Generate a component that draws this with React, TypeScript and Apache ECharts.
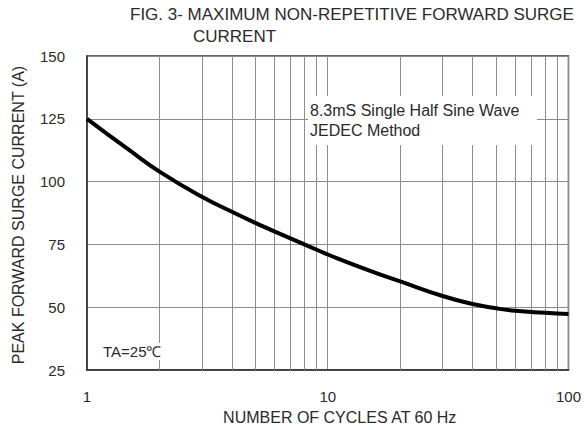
import React, { useEffect, useRef } from "react";
import * as echarts from "echarts";

const cycles = [1, 1.5, 2, 3, 4, 5, 6, 7, 8, 9, 10, 15, 20, 30, 40, 50, 60, 80, 100];
const surgeCurrent = [125, 112.5, 104, 94, 88, 83.6, 80.2, 77.4, 75, 72.9, 71, 64.5, 60.3, 54.5, 51.3, 49.6, 48.6, 47.8, 47.3];
const minorGridX = [2, 3, 4, 5, 6, 7, 8, 9, 20, 30, 40, 50, 60, 70, 80, 90];
const yMin = 25;
const yMax = 150;
const yStep = 25;

const FONT = "'Liberation Sans', Arial, sans-serif";
const TXT = "#2a2a2a";

export default function App() {
  const ref = useRef<HTMLDivElement>(null);
  useEffect(() => {
    if (!ref.current) return;
    const chart = echarts.init(ref.current, undefined, { renderer: "svg" });
    chart.setOption({
      animation: false,
      backgroundColor: "#fff",
      grid: {
        left: 87,
        right: 15,
        top: 56,
        bottom: 58,
        show: true,
        borderColor: "#333",
        borderWidth: 1.5,
      },
      xAxis: {
        type: "log",
        logBase: 10,
        min: 1,
        max: 100,
        name: "NUMBER OF CYCLES AT 60 Hz",
        nameLocation: "middle",
        nameGap: 38,
        nameTextStyle: { fontFamily: FONT, fontSize: 16, color: TXT, padding: [0, 0, 0, 24] },
        axisLine: { show: true, lineStyle: { color: "#333", width: 1.5 } },
        axisTick: { show: false },
        axisLabel: { fontFamily: FONT, fontSize: 15, color: TXT, margin: 19 },
        splitLine: { show: true, lineStyle: { color: "#8c8c8c", width: 1 } },
      },
      yAxis: {
        type: "value",
        min: yMin,
        max: yMax,
        interval: yStep,
        name: "PEAK FORWARD SURGE CURRENT (A)",
        nameLocation: "middle",
        nameGap: 61,
        nameTextStyle: { fontFamily: FONT, fontSize: 16, color: TXT, padding: [0, 4, 0, 0] },
        axisLine: { show: true, lineStyle: { color: "#333", width: 1.5 } },
        axisTick: { show: false },
        axisLabel: { fontFamily: FONT, fontSize: 15, color: TXT, margin: 22 },
        splitLine: { show: true, lineStyle: { color: "#8c8c8c", width: 1 } },
      },
      graphic: [
        {
          type: "text",
          left: 130,
          top: 6,
          style: { text: "FIG. 3- MAXIMUM NON-REPETITIVE FORWARD SURGE", font: `17px ${FONT}`, fill: TXT },
        },
        {
          type: "text",
          left: 193,
          top: 28,
          style: { text: "CURRENT", font: `17px ${FONT}`, fill: TXT },
        },
        {
          type: "rect",
          shape: { x: 308, y: 96, width: 229, height: 49 },
          style: { fill: "#fff" },
          z: 50,
        },
        {
          type: "text",
          x: 310,
          y: 100,
          z: 51,
          style: {
            text: "8.3mS Single Half Sine Wave\nJEDEC Method",
            font: `16px ${FONT}`,
            lineHeight: 20,
            fill: TXT,
          },
        },
        {
          type: "text",
          x: 101,
          y: 343,
          z: 51,
          style: {
            text: "TA=25\u2103",
            font: `15px ${FONT}`,
            fill: TXT,
            backgroundColor: "#fff",
            padding: [1, 2],
          },
        },
      ],
      series: [
        {
          type: "line",
          data: [],
          z: 1,
          silent: true,
          markLine: {
            silent: true,
            symbol: ["none", "none"],
            label: { show: false },
            lineStyle: { color: "#8c8c8c", width: 1, type: "solid" },
            data: minorGridX.map((v) => ({ xAxis: v })),
          },
        },
        {
          type: "line",
          z: 5,
          smooth: 0.5,
          showSymbol: false,
          symbol: "none",
          lineStyle: { color: "#000", width: 4 },
          data: cycles.map((c, i) => [c, surgeCurrent[i]]),
        },
      ],
    });
    return () => chart.dispose();
  }, []);
  return <div ref={ref} style={{ width: 584, height: 430, position: "absolute", left: 0, top: 0 }} />;
}
